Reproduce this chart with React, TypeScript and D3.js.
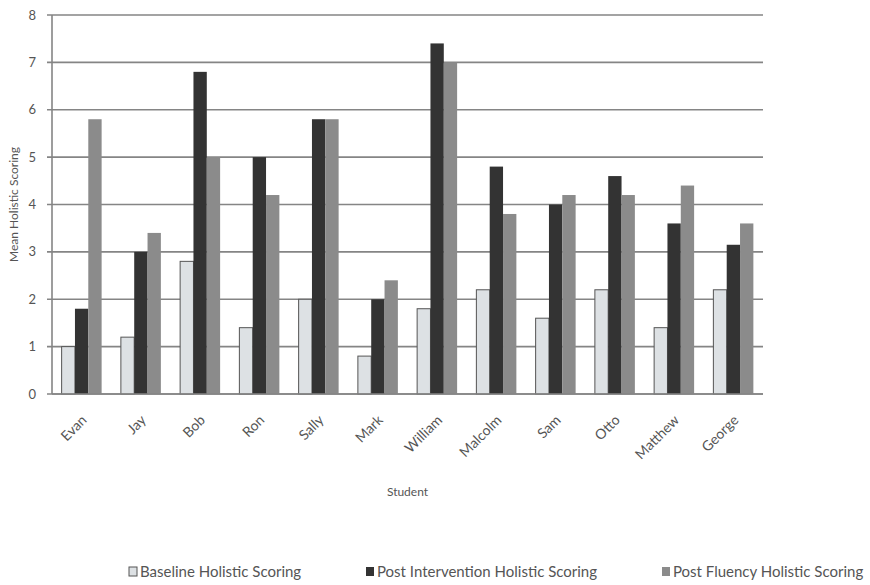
import React from "react";
import * as d3 from "d3";

const students = ["Evan", "Jay", "Bob", "Ron", "Sally", "Mark", "William", "Malcolm", "Sam", "Otto", "Matthew", "George"];
const baseline = [1.0, 1.2, 2.8, 1.4, 2.0, 0.8, 1.8, 2.2, 1.6, 2.2, 1.4, 2.2];
const postIntervention = [1.8, 3.0, 6.8, 5.0, 5.8, 2.0, 7.4, 4.8, 4.0, 4.6, 3.6, 3.15];
const postFluency = [5.8, 3.4, 5.0, 4.2, 5.8, 2.4, 7.0, 3.8, 4.2, 4.2, 4.4, 3.6];
const seriesNames = ["Baseline Holistic Scoring", "Post Intervention Holistic Scoring", "Post Fluency Holistic Scoring"];
const yTicks = [0, 1, 2, 3, 4, 5, 6, 7, 8];

const W = 870;
const H = 585;
const left = 52;
const right = 763;
const top = 15;
const bottom = 394;

const fills = ["#dde1e4", "#333333", "#8b8b8b"];
const strokes = ["#555555", "none", "none"];
const FONT = "Lato, 'Open Sans', sans-serif";
const TEXT = "#555555";

export default function App() {
  const x0 = d3.scaleBand().domain(students).range([left, right]).paddingInner(0).paddingOuter(0);
  const inner = 0.325;
  const x1 = d3
    .scaleBand()
    .domain(["0", "1", "2"])
    .range([x0.bandwidth() * inner / 2, x0.bandwidth() * (1 - inner / 2)])
    .padding(0);
  const y = d3.scaleLinear().domain([0, 8]).range([bottom, top]);
  const all = [baseline, postIntervention, postFluency];

  const legendX = [129, 366, 662];

  return (
    <div style={{ position: "absolute", left: 0, top: 0 }}>
      <svg width={W} height={H} style={{ display: "block", background: "#ffffff" }}>
        {yTicks.map((t) => (
          <g key={t}>
            <line x1={left - 5} x2={right} y1={y(t)} y2={y(t)} stroke="#858585" strokeWidth={1.6} />
            <text x={36} y={y(t)} dy="0.35em" textAnchor="end" fontFamily={FONT} fontSize={13} fill={TEXT}>
              {t}
            </text>
          </g>
        ))}
        <line x1={left} x2={left} y1={top} y2={bottom} stroke="#858585" strokeWidth={1.6} />
        {students.map((s, i) => (
          <g key={s} transform={`translate(${x0(s)},0)`}>
            {all.map((arr, k) => (
              <rect
                key={k}
                x={x1(String(k))}
                y={y(arr[i])}
                width={x1.bandwidth()}
                height={bottom - y(arr[i])}
                fill={fills[k]}
                stroke={strokes[k]}
                strokeWidth={k === 0 ? 1 : 0}
              />
            ))}
          </g>
        ))}
        <line x1={left} x2={right} y1={bottom} y2={bottom} stroke="#858585" strokeWidth={1.6} />
        {students.map((s) => {
          const cx = (x0(s) as number) + x0.bandwidth() / 2;
          return (
            <text
              key={s}
              transform={`translate(${cx + 6},${bottom + 27}) rotate(-45)`}
              textAnchor="end"
              fontFamily={FONT}
              fontSize={14}
              fill={TEXT}
            >
              {s}
            </text>
          );
        })}
        <text x={(left + right) / 2} y={496} textAnchor="middle" fontFamily={FONT} fontSize={12} fill={TEXT}>
          Student
        </text>
        <text
          transform={`translate(18,${(top + bottom) / 2}) rotate(-90)`}
          textAnchor="middle"
          fontFamily={FONT}
          fontSize={12}
          fill={TEXT}
        >
          Mean Holistic Scoring
        </text>
        {seriesNames.map((n, k) => (
          <g key={n} transform={`translate(${legendX[k]},572)`}>
            <rect x={0} y={-5} width={8} height={9} fill={fills[k]} stroke={k === 0 ? "#555" : "none"} strokeWidth={1} />
            <text x={11} y={0} dy="0.35em" fontFamily={FONT} fontSize={15} fill={TEXT}>
              {n}
            </text>
          </g>
        ))}
      </svg>
    </div>
  );
}
